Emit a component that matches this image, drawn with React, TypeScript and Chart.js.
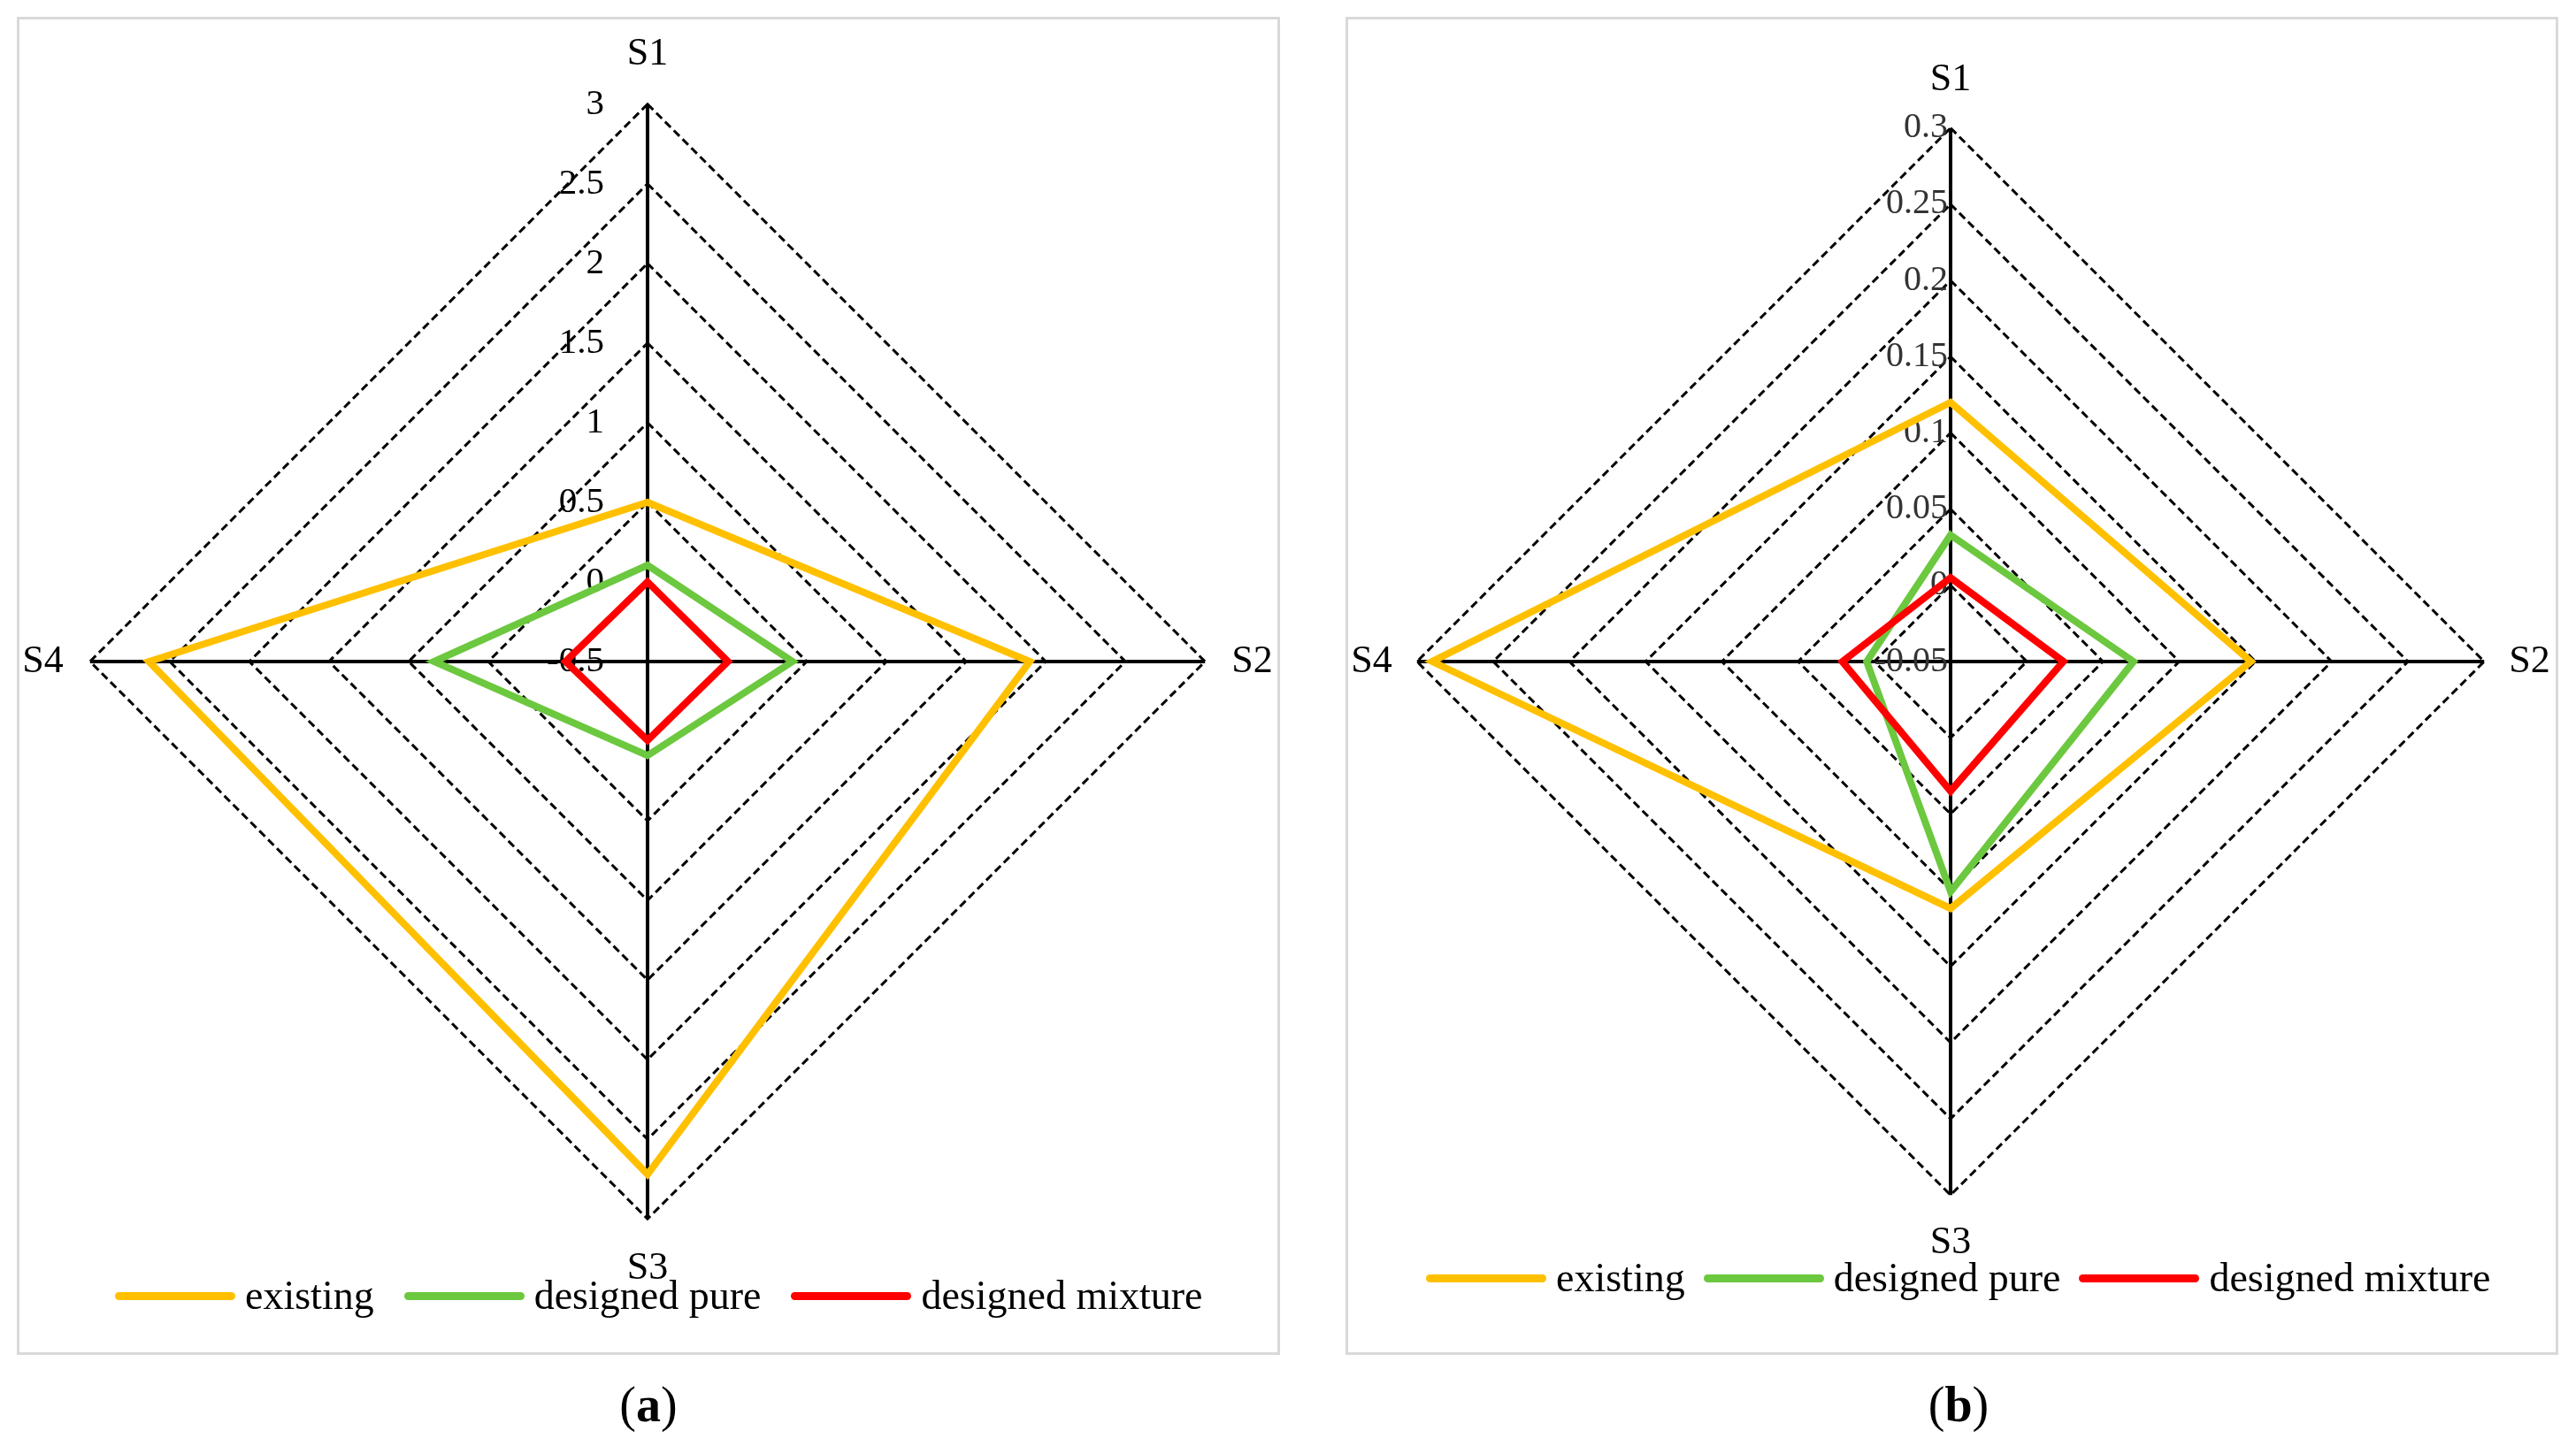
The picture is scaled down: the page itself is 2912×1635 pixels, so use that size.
import React, { useEffect, useRef } from "react";
import { Chart, registerables } from "chart.js";

Chart.register(...registerables);

const categories = ["S1", "S2", "S3", "S4"];
const seriesNames = ["existing", "designed pure", "designed mixture"];
const seriesColors = ["#FFC000", "#6CC83F", "#FF0000"];

const existingA = [0.5, 1.9, 2.72, 2.63];
const pureA = [0.105, 0.41, 0.09, 0.84];
const mixtureA = [0.0, 0.005, -0.005, 0.015];
const tickValuesA = [-0.5, 0, 0.5, 1, 1.5, 2, 2.5, 3];
const tickLabelsA = ["-0.5", "0", "0.5", "1", "1.5", "2", "2.5", "3"];

const existingB = [0.12, 0.147, 0.112, 0.29];
const pureB = [0.033, 0.07, 0.101, 0.005];
const mixtureB = [0.005, 0.024, 0.035, 0.021];
const tickValuesB = [-0.05, 0, 0.05, 0.1, 0.15, 0.2, 0.25, 0.3];
const tickLabelsB = ["-0.05", "0", "0.05", "0.1", "0.15", "0.2", "0.25", "0.3"];

const FONT = '"Liberation Serif", "Times New Roman", serif';

const tickLabelPlugin = {
  id: "tickLabelsLeft",
  beforeDatasetsDraw(chart: any, _args: any, opts: any) {
    const scale = chart.scales.r;
    const ctx = chart.ctx;
    ctx.save();
    ctx.font = `${opts.size}px ${FONT}`;
    ctx.fillStyle = opts.color;
    ctx.textAlign = "right";
    ctx.textBaseline = "middle";
    (opts.values as number[]).forEach((v, i) => {
      const p = scale.getPointPositionForValue(0, v);
      ctx.fillText(opts.labels[i], p.x - opts.offset, p.y);
    });
    ctx.restore();
  },
};

type PanelProps = {
  series: number[][];
  tickValues: number[];
  tickLabels: string[];
  size: number;
  left: number;
  top: number;
  padding: number;
  tickOffset: number;
  tickColor: string;
  tickSize: number;
};

function RadarPanel(p: PanelProps) {
  const ref = useRef<HTMLCanvasElement | null>(null);
  useEffect(() => {
    if (!ref.current) return;
    const chart = new Chart(ref.current, {
      type: "radar",
      data: {
        labels: categories,
        datasets: p.series.map((d, i) => ({
          label: seriesNames[i],
          data: d,
          borderColor: seriesColors[i],
          backgroundColor: seriesColors[i],
          borderWidth: 8,
          fill: false,
          tension: 0,
          pointRadius: 0,
          borderJoinStyle: "miter" as const,
          order: 3 - i,
        })),
      },
      options: {
        responsive: false,
        animation: false,
        layout: { padding: 0 },
        plugins: {
          legend: { display: false },
          tooltip: { enabled: false },
          tickLabelsLeft: {
            values: p.tickValues,
            labels: p.tickLabels,
            offset: p.tickOffset,
            color: p.tickColor,
            size: p.tickSize,
          },
        } as any,
        scales: {
          r: {
            min: p.tickValues[0],
            max: p.tickValues[p.tickValues.length - 1],
            startAngle: 0,
            afterBuildTicks: (s: any) => {
              s.ticks = p.tickValues.map((v) => ({ value: v }));
            },
            ticks: { display: false },
            grid: { color: "#000", lineWidth: 3, circular: false },
            border: { dash: [9, 5] },
            angleLines: { color: "#000", lineWidth: 4 },
            pointLabels: {
              font: { family: FONT, size: 44 },
              color: "#000",
              padding: p.padding,
            },
          } as any,
        },
      },
      plugins: [tickLabelPlugin],
    });
    return () => chart.destroy();
  }, []);
  return (
    <canvas
      ref={ref}
      width={p.size}
      height={p.size}
      style={{ position: "absolute", left: p.left, top: p.top, width: p.size, height: p.size }}
    />
  );
}

function Legend({ left, top, gap }: { left: number; top: number; gap: number }) {
  return (
    <div
      style={{
        position: "absolute",
        left,
        top,
        display: "flex",
        alignItems: "center",
        gap,
        fontFamily: FONT,
        fontSize: 46,
        lineHeight: "46px",
        color: "#000",
        whiteSpace: "nowrap",
      }}
    >
      {seriesNames.map((n, i) => (
        <div key={n} style={{ display: "flex", alignItems: "center" }}>
          <span
            style={{
              display: "inline-block",
              width: 136,
              height: 9,
              borderRadius: 4.5,
              background: seriesColors[i],
              marginRight: 11,
            }}
          />
          <span>{n}</span>
        </div>
      ))}
    </div>
  );
}

function Caption({ cx, cy, letter }: { cx: number; cy: number; letter: string }) {
  return (
    <div
      style={{
        position: "absolute",
        left: cx - 100,
        top: cy - 32,
        width: 200,
        textAlign: "center",
        fontFamily: FONT,
        fontSize: 56,
        lineHeight: "64px",
        color: "#000",
      }}
    >
      (<b>{letter}</b>)
    </div>
  );
}

export default function App() {
  return (
    <div
      style={{
        position: "absolute",
        left: 0,
        top: 0,
        width: 2912,
        height: 1635,
        background: "#fff",
        overflow: "hidden",
      }}
    >
      <div
        style={{
          position: "absolute",
          left: 19,
          top: 19,
          width: 1428,
          height: 1513,
          border: "3px solid #D9D9D9",
          boxSizing: "border-box",
        }}
      />
      <div
        style={{
          position: "absolute",
          left: 1521,
          top: 19,
          width: 1371,
          height: 1513,
          border: "3px solid #D9D9D9",
          boxSizing: "border-box",
        }}
      />
      <RadarPanel
        series={[existingA, pureA, mixtureA]}
        tickValues={tickValuesA}
        tickLabels={tickLabelsA}
        size={1426}
        left={19}
        top={35}
        padding={30}
        tickOffset={49}
        tickColor="#000"
        tickSize={41}
      />
      <RadarPanel
        series={[existingB, pureB, mixtureB]}
        tickValues={tickValuesB}
        tickLabels={tickLabelsB}
        size={1368}
        left={1521}
        top={64}
        padding={28}
        tickOffset={3}
        tickColor="#333"
        tickSize={40}
      />
      <Legend left={130} top={1442} gap={34} />
      <Legend left={1612} top={1422} gap={21} />
      <Caption cx={733} cy={1588} letter="a" />
      <Caption cx={2214} cy={1588} letter="b" />
    </div>
  );
}
